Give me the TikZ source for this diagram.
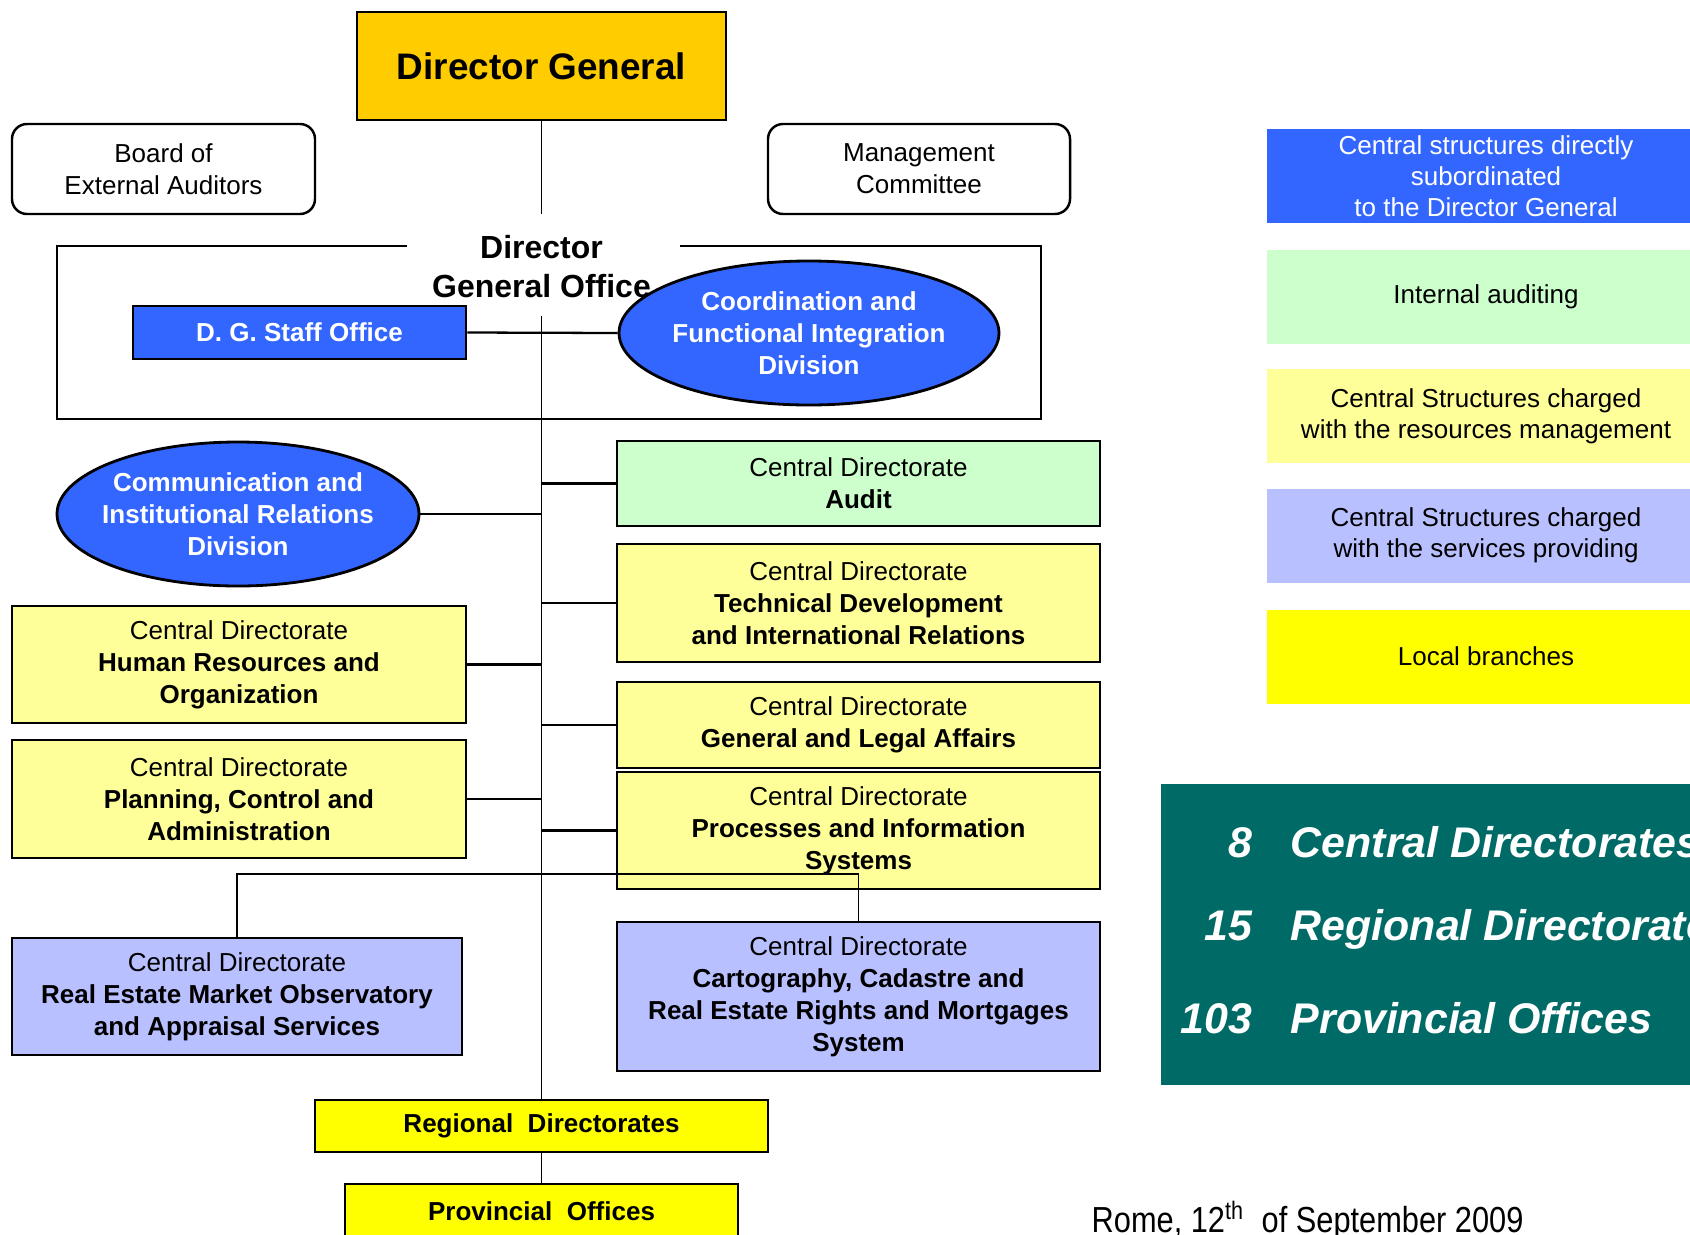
\documentclass[tikz,border=0pt]{standalone}
\usepackage{fontspec}
\setmainfont{Liberation Sans}
\usetikzlibrary{shapes.geometric}

\definecolor{dggold}{HTML}{FFCC00}
\definecolor{dgblue}{HTML}{3366FF}
\definecolor{auditgreen}{HTML}{CCFFCC}
\definecolor{resyellow}{HTML}{FFFF99}
\definecolor{servlav}{HTML}{B9C0FF}
\definecolor{localyellow}{HTML}{FFFF00}
\definecolor{statteal}{HTML}{006A66}

\newcommand{\cdfont}{\fontsize{7.4}{9.1}\selectfont}

\begin{document}
\begin{tikzpicture}[
        unit/.style={draw, line width=0.8pt, align=center, inner sep=0pt, font=\cdfont},
        blueunit/.style={unit, fill=dgblue, text=white, font=\cdfont\bfseries},
        legend/.style={fill, inner sep=0pt, align=center, minimum width=4.38cm,
            minimum height=0.94cm, font=\fontsize{7.4}{8.9}\selectfont},
        count/.style={text=white, inner sep=0pt, font=\fontsize{12.2}{14}\selectfont\bfseries\itshape},
        spine/.style={line width=0.55pt},
        branch/.style={line width=0.65pt}
    ]
        \useasboundingbox (0,0) rectangle (16.9,12.34);

        % top of the chart
        \node[unit, fill=dggold, minimum width=3.69cm, minimum height=1.08cm,
            font=\fontsize{10.5}{12}\selectfont\bfseries] (dg) at (5.415,11.68) {Director General};
        \node[unit, rounded corners=0.15cm, line width=0.7pt, minimum width=3.03cm,
            minimum height=0.90cm] (board) at (1.635,10.65) {Board of\\External Auditors};
        \node[unit, rounded corners=0.15cm, line width=0.7pt, minimum width=3.02cm,
            minimum height=0.90cm] (mgmt) at (9.19,10.65) {Management\\Committee};

        % director general office
        \draw[line width=0.8pt] (4.07,9.88) -- (0.57,9.88) -- (0.57,8.15)
            -- (10.41,8.15) -- (10.41,9.88) -- (6.80,9.88);
        \node[blueunit, minimum width=3.33cm, minimum height=0.53cm] (staff) at (2.995,9.015) {D. G. Staff Office};
        \node[blueunit, ellipse, inner xsep=-4pt, minimum width=3.80cm, minimum height=1.44cm]
            (coord) at (8.09,9.01) {Coordination and\\Functional Integration\\Division};
        \node[align=center, inner sep=0pt, font=\fontsize{9.1}{11.1}\selectfont\bfseries]
            (dgo) at (5.415,9.675) {Director\\General Office};

        \node[blueunit, ellipse, inner xsep=-4pt, minimum width=3.62cm, minimum height=1.44cm]
            (comm) at (2.38,7.20) {Communication and\\Institutional Relations\\Division};

        % central directorates
        \node[unit, fill=auditgreen, minimum width=4.83cm, minimum height=0.85cm]
            (audit) at (8.585,7.505) {Central Directorate\\\textbf{Audit}};
        \node[unit, fill=resyellow, minimum width=4.83cm, minimum height=1.18cm]
            (tech) at (8.585,6.31) {Central Directorate\\\textbf{Technical Development}\\\textbf{and International Relations}};
        \node[unit, fill=resyellow, minimum width=4.83cm, minimum height=0.86cm]
            (legal) at (8.585,5.09) {Central Directorate\\\textbf{General and Legal Affairs}};
        \node[unit, fill=resyellow, minimum width=4.83cm, minimum height=1.17cm]
            (proc) at (8.585,4.035) {Central Directorate\\\textbf{Processes and Information}\\\textbf{Systems}};
        \node[unit, fill=resyellow, minimum width=4.54cm, minimum height=1.17cm]
            (hr) at (2.39,5.695) {Central Directorate\\\textbf{Human Resources and}\\\textbf{Organization}};
        \node[unit, fill=resyellow, minimum width=4.54cm, minimum height=1.18cm]
            (plan) at (2.39,4.35) {Central Directorate\\\textbf{Planning, Control and}\\\textbf{Administration}};
        \node[unit, fill=servlav, minimum width=4.50cm, minimum height=1.17cm]
            (reo) at (2.37,2.375) {Central Directorate\\\textbf{Real Estate Market Observatory}\\\textbf{and Appraisal Services}};
        \node[unit, fill=servlav, minimum width=4.83cm, minimum height=1.49cm]
            (carto) at (8.585,2.375) {Central Directorate\\\textbf{Cartography, Cadastre and}\\\textbf{Real Estate Rights and Mortgages}\\\textbf{System}};

        % local branches
        \node[unit, fill=localyellow, minimum width=4.53cm, minimum height=0.52cm,
            font=\cdfont\bfseries] (reg) at (5.415,1.08) {Regional\ \ Directorates};
        \node[unit, fill=localyellow, minimum width=3.93cm, minimum height=0.54cm,
            font=\cdfont\bfseries] (prov) at (5.415,0.23) {Provincial\ \ Offices};

        % connectors
        \coordinate (spinetop) at (5.415,10.20);
        \coordinate (spinemid) at (5.415,9.18);
        \coordinate (jn) at (8.585,3.60);
        \draw[spine] (dg.south) -- (spinetop);
        \draw[spine] (spinemid) -- (reg.north);
        \draw[spine] (reg.south) -- (prov.north);
        \draw[branch] (staff.east) -- (coord.west);
        \draw[branch] (comm.east) -- (comm.east -| reg.north);
        \draw[branch] (audit.west) -- (audit.west -| reg.north);
        \draw[branch] (tech.west) -- (tech.west -| reg.north);
        \draw[branch] (legal.west) -- (legal.west -| reg.north);
        \draw[branch] (proc.west) -- (proc.west -| reg.north);
        \draw[branch] (hr.east) -- (hr.east -| reg.north);
        \draw[branch] (plan.east) -- (plan.east -| reg.north);
        \draw[spine] (reo.north) |- (jn) -- (carto.north);

        % legend
        \node[legend, fill=dgblue, text=white] (lgdg) at (14.86,10.58) {Central structures directly\\subordinated\\to the Director General};
        \node[legend, fill=auditgreen] (lgaudit) at (14.86,9.375) {Internal auditing};
        \node[legend, fill=resyellow] (lgres) at (14.86,8.18) {Central Structures charged\\with the resources management};
        \node[legend, fill=servlav] (lgserv) at (14.86,6.985) {Central Structures charged\\with the services providing};
        \node[legend, fill=localyellow] (lglocal) at (14.86,5.775) {Local branches};

        % counts
        \fill[statteal] (11.61,1.49) rectangle (17.2,4.50);
        \node[count, anchor=base east] (ncd) at (12.53,3.77) {8};
        \node[count, anchor=base west] (tcd) at (12.90,3.77) {Central Directorates};
        \node[count, anchor=base east] (nrd) at (12.53,2.94) {15};
        \node[count, anchor=base west] (trd) at (12.90,2.94) {Regional Directorates};
        \node[count, anchor=base east] (npo) at (12.53,2.01) {103};
        \node[count, anchor=base west] (tpo) at (12.90,2.01) {Provincial Offices};

        \node[anchor=base west, inner sep=0pt, font=\fontsize{10.3}{12}\selectfont]
            (date) at (10.91,0.02) {\scalebox{0.85}[1]{Rome, 12\textsuperscript{th}\ \ of September 2009}};
    \end{tikzpicture}
\end{document}
